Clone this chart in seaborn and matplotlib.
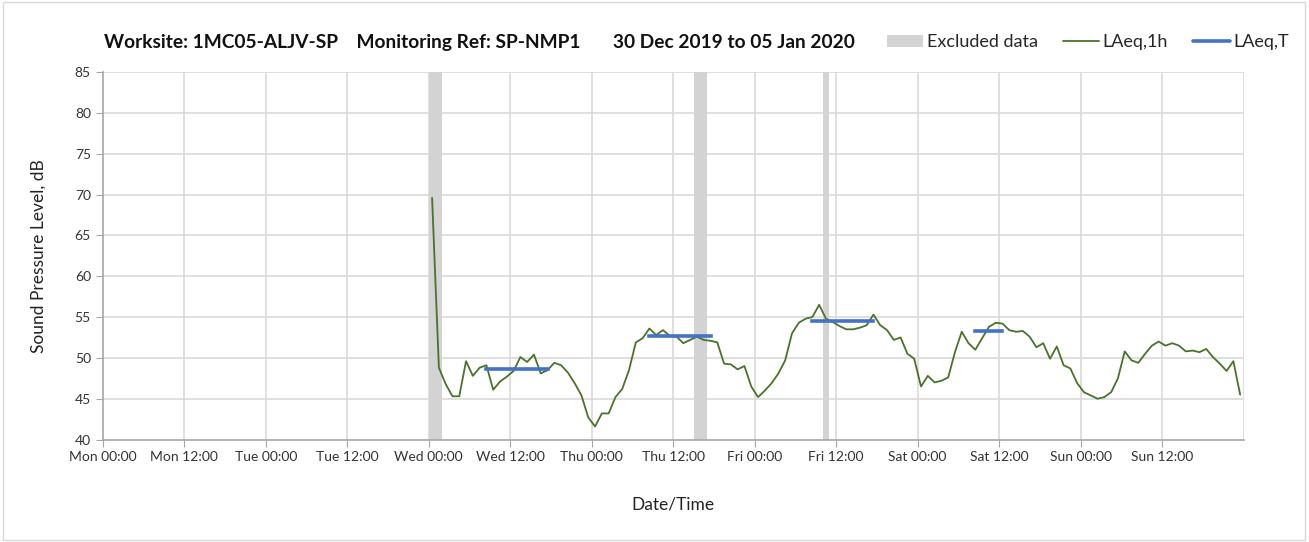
import numpy as np
import pandas as pd
import seaborn as sns
import matplotlib.pyplot as plt
from matplotlib.patches import Patch, Rectangle
from matplotlib.lines import Line2D

# hourly LAeq,1h values (dB), Wed 00:30 .. Sun 23:30
wed = [69.6, 48.8, 46.8, 45.3, 45.3, 49.6, 47.8, 48.8, 49.1, 46.1, 47.1, 47.7,
       48.4, 50.1, 49.5, 50.4, 48.1, 48.5, 49.4, 49.1, 48.2, 46.9, 45.4, 42.7]
thu = [41.6, 43.2, 43.2, 45.2, 46.2, 48.5, 51.9, 52.4, 53.6, 52.8, 53.4, 52.7,
       52.6, 51.8, 52.2, 52.6, 52.2, 52.1, 51.9, 49.3, 49.2, 48.6, 49.0, 46.5]
fri = [45.2, 46.0, 46.9, 48.1, 49.7, 53.0, 54.3, 54.8, 55.0, 56.5, 54.8, 54.4,
       53.9, 53.5, 53.5, 53.7, 54.0, 55.3, 54.0, 53.4, 52.2, 52.5, 50.5, 49.9]
sat = [46.5, 47.8, 47.0, 47.2, 47.6, 50.7, 53.2, 51.8, 51.0, 52.4, 53.8, 54.3,
       54.2, 53.4, 53.2, 53.3, 52.6, 51.3, 51.8, 49.9, 51.4, 49.1, 48.7, 46.9]
sun = [45.8, 45.4, 45.0, 45.2, 45.8, 47.5, 50.8, 49.7, 49.4, 50.5, 51.5, 52.0,
       51.5, 51.8, 51.5, 50.8, 50.9, 50.7, 51.1, 50.1, 49.3, 48.4, 49.6, 45.5]
first_hour = 48.5  # hours after Mon 00:00

# LAeq,T working-period levels: (start hour, end hour, level)
period_start = [56.5, 80.5, 104.5, 128.5]
period_end = [65.5, 89.5, 113.5, 132.5]
period_level = [48.7, 52.7, 54.5, 53.35]

# excluded data windows (hours after Mon 00:00)
excl_start = [48, 87, 106]
excl_end = [50, 89, 107]

tick_labels = ["Mon 00:00", "Mon 12:00", "Tue 00:00", "Tue 12:00", "Wed 00:00",
               "Wed 12:00", "Thu 00:00", "Thu 12:00", "Fri 00:00", "Fri 12:00",
               "Sat 00:00", "Sat 12:00", "Sun 00:00", "Sun 12:00"]

values = wed + thu + fri + sat + sun
df = pd.DataFrame({"hour": first_hour + np.arange(len(values)), "laeq": values})

sns.set_style("white")
plt.rcParams['font.family'] = ['Lato', 'DejaVu Sans']

green = "#4a7229"
blue = "#4472c4"
grey_band = "#d3d3d3"
grid_col = "#d9d9d9"

fig = plt.figure(figsize=(13.09, 5.42), dpi=100)
ax = fig.add_axes([0.0785, 0.189, 0.8715, 0.678])

for s, e in zip(excl_start, excl_end):
    ax.axvspan(s, e, color=grey_band, lw=0, zorder=1)

sns.lineplot(data=df, x="hour", y="laeq", color=green, lw=1.3, ax=ax, zorder=3)

for s, e, v in zip(period_start, period_end, period_level):
    seg = pd.DataFrame({"hour": [s, e], "laeq": [v, v]})
    sns.lineplot(data=seg, x="hour", y="laeq", color=blue, lw=2.6, ax=ax,
                 zorder=4, solid_capstyle="projecting")

ax.set_xlim(0, 168)
ax.set_ylim(40, 85)
ax.set_xticks(np.arange(0, 168, 12))
ax.set_xticklabels(tick_labels, fontsize=10, color="#333333")
ax.set_yticks(np.arange(40, 86, 5))
ax.tick_params(axis="y", labelsize=10, labelcolor="#333333", length=5,
               color="#a6a6a6", left=True)
ax.tick_params(axis="x", length=5, color="#a6a6a6", bottom=True)

for y in np.arange(45, 86, 5):
    ax.axhline(y, color=grid_col, lw=1.2, zorder=0)
for x in np.arange(12, 169, 12):
    ax.axvline(x, color=grid_col, lw=1.2, zorder=0)

for side in ["top", "right"]:
    ax.spines[side].set_visible(False)
for side in ["left", "bottom"]:
    ax.spines[side].set_color("#a6a6a6")
    ax.spines[side].set_linewidth(1.2)

ax.set_xlabel("Date/Time", fontsize=12.5, labelpad=24, color="#222222")
ax.set_ylabel("Sound Pressure Level, dB", fontsize=12.5, labelpad=20, color="#222222")

fig.text(0.0795, 0.922, "Worksite: 1MC05-ALJV-SP    Monitoring Ref: SP-NMP1       30 Dec 2019 to 05 Jan 2020",
         fontsize=13.8, fontweight="bold", va="center", ha="left", color="#111111")

handles = [Patch(facecolor=grey_band, edgecolor="none"),
           Line2D([], [], color=green, lw=1.3),
           Line2D([], [], color=blue, lw=2.6)]
fig.legend(handles, ["Excluded data", "LAeq,1h", "LAeq,T"], ncol=3, frameon=False,
           loc="center right", bbox_to_anchor=(0.997, 0.922), fontsize=13,
           handlelength=2.0, handletextpad=0.2, columnspacing=1.4)

fig.patches.append(Rectangle((0.002, 0.003), 0.995, 0.993, transform=fig.transFigure,
                             fill=False, edgecolor="#d9d9d9", lw=1))

fig.savefig("out.png", dpi=100)
